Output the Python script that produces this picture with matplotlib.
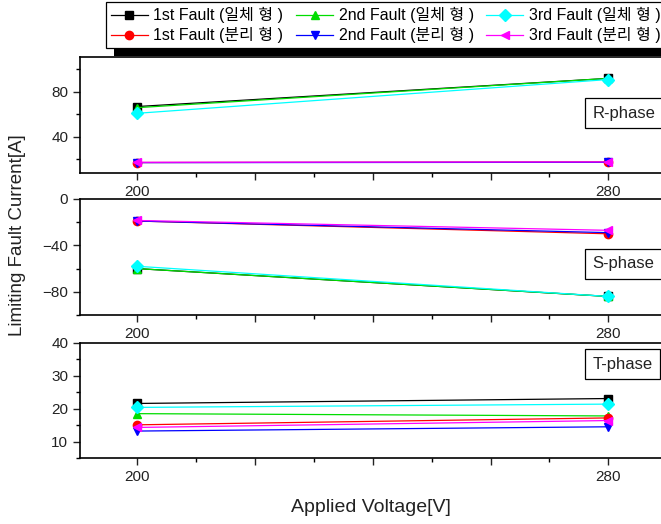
import matplotlib
matplotlib.use('Agg')
import matplotlib.pyplot as plt
from matplotlib.ticker import MultipleLocator, FixedLocator
from matplotlib.patches import Rectangle

plt.rcParams['font.family'] = ['Liberation Sans', 'Noto Sans CJK KR', 'DejaVu Sans']

# 인가 전압
voltage = [200, 280]

# 계열 이름 / 색 / 마커
labels = ['1st Fault (일체 형 )', '2nd Fault (일체 형 )', '3rd Fault (일체 형 )',
          '1st Fault (분리 형 )', '2nd Fault (분리 형 )', '3rd Fault (분리 형 )']
colors = ['#000000', '#00dd00', '#00ffff', '#ff0000', '#0000ff', '#ff00ff']
markers = ['s', '^', 'D', 'o', 'v', '<']

# R상 한류 전류
r_1st_il = [67, 92]
r_2nd_il = [66, 92]
r_3rd_il = [61, 91]
r_1st_bun = [17.3, 17.8]
r_2nd_bun = [17.2, 17.5]
r_3rd_bun = [17.5, 17.8]

# S상 한류 전류
s_1st_il = [-60, -84]
s_2nd_il = [-60, -84]
s_3rd_il = [-58, -84]
s_1st_bun = [-19, -30]
s_2nd_bun = [-19, -29]
s_3rd_bun = [-18.5, -27]

# T상 한류 전류
t_1st_il = [21.6, 23.1]
t_2nd_il = [18.5, 17.8]
t_3rd_il = [20.4, 21.4]
t_1st_bun = [15.1, 17.2]
t_2nd_bun = [13.2, 14.5]
t_3rd_bun = [14.3, 16.4]

phases = [
    ('R-phase', [r_1st_il, r_2nd_il, r_3rd_il, r_1st_bun, r_2nd_bun, r_3rd_bun],
     (8, 111), 40, 20, 0.513),
    ('S-phase', [s_1st_il, s_2nd_il, s_3rd_il, s_1st_bun, s_2nd_bun, s_3rd_bun],
     (-100, 0), 40, 20, 0.44),
    ('T-phase', [t_1st_il, t_2nd_il, t_3rd_il, t_1st_bun, t_2nd_bun, t_3rd_bun],
     (5, 40), 10, 5, 0.817),
]

W, H = 661, 524
fig = plt.figure(figsize=(W / 100, H / 100), dpi=100)

# 패널 위치 (픽셀: 위쪽 y, 아래쪽 y)
panel_px = [(57, 173), (199, 315), (343, 458)]
left_px = 80
width_px = 599

handles = []
for (name, series, ylim, major, minor, ty), (top, bot) in zip(phases, panel_px):
    ax = fig.add_axes([left_px / W, 1 - bot / H, width_px / W, (bot - top) / H])
    for vals, c, m, lab in zip(series, colors, markers, labels):
        ln, = ax.plot(voltage, vals, color=c, marker=m, markersize=6,
                      linewidth=0.9, label=lab)
        if name == 'R-phase':
            handles.append(ln)
    ax.set_xlim(190.3, 292)
    ax.set_ylim(*ylim)
    ax.xaxis.set_major_locator(FixedLocator([200, 220, 240, 260, 280]))
    ax.set_xticklabels(['200', '', '', '', '280'])
    ax.xaxis.set_minor_locator(MultipleLocator(10))
    ax.yaxis.set_major_locator(MultipleLocator(major))
    ax.yaxis.set_minor_locator(MultipleLocator(minor))
    ax.tick_params(which='major', direction='out', length=5, width=1,
                   labelsize=11, colors='#222222', top=False, right=False)
    ax.tick_params(which='minor', direction='out', length=3, width=1,
                   top=False, right=False)
    for s in ax.spines.values():
        s.set_linewidth(1.2)
    ax.spines['right'].set_visible(False)
    ax.text(0.855, ty, name, transform=ax.transAxes, fontsize=12,
            ha='left', va='center', color='#222222',
            bbox=dict(boxstyle='square,pad=0.45', fc='white', ec='black', lw=0.9))

fig.text(18 / W, 1 - 235 / H, 'Limiting Fault Current[A]', rotation=90,
         ha='center', va='center', fontsize=13.5, color='#222222')
fig.text(371 / W, 1 - 508 / H, 'Applied Voltage[V]', ha='center', va='center',
         fontsize=14, color='#222222')

# 범례: 행 방향 배치를 위해 열 순서로 재배열
order = [0, 3, 1, 4, 2, 5]
leg = fig.legend([handles[i] for i in order], [labels[i] for i in order],
                 ncol=3, loc='upper left', bbox_to_anchor=(106 / W, 1 - 2 / H),
                 fontsize=11.5, frameon=True, fancybox=False, edgecolor='black',
                 framealpha=1, borderaxespad=0, borderpad=0.32,
                 labelspacing=0.25, handlelength=2.3, handletextpad=0.35,
                 columnspacing=0.8)
leg.get_frame().set_linewidth(0.9)
leg.set_zorder(6)

# 범례 그림자
fig.canvas.draw()
bb = leg.get_window_extent()
shadow = Rectangle(((bb.x0 + 8) / W, (bb.y0 - 8) / H), bb.width / W, bb.height / H,
                   transform=fig.transFigure, facecolor='black', edgecolor='none',
                   zorder=5)
fig.add_artist(shadow)

fig.savefig('out.png', dpi=100)
